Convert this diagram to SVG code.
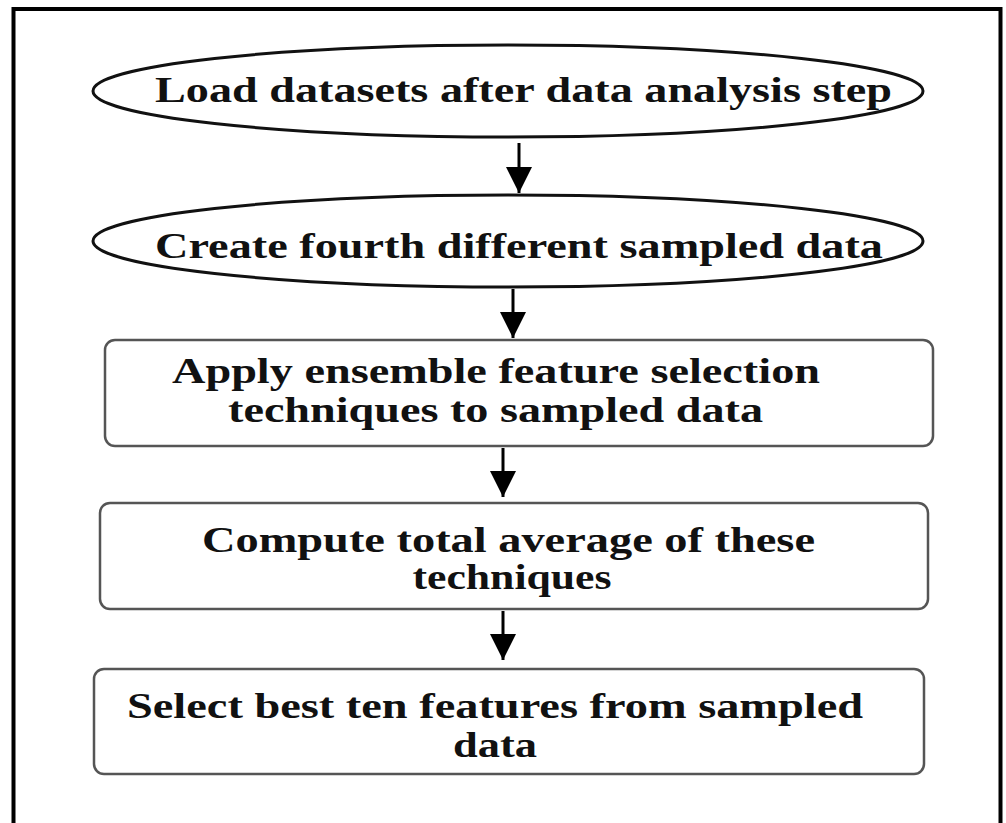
<svg xmlns="http://www.w3.org/2000/svg" width="1006" height="823" viewBox="0 0 1006 823">
<defs>
<marker id="ah" viewBox="0 0 10 10" refX="10" refY="5" markerWidth="26" markerHeight="26" markerUnits="userSpaceOnUse" orient="auto">
<path d="M0,0 L10,5 L0,10 z" fill="#000"/>
</marker>
<style>
.t{font-family:"Liberation Serif","Times New Roman",serif;font-weight:bold;font-size:35px;fill:#111;text-anchor:middle}
.el{fill:#fff;stroke:#111;stroke-width:3}
.bx{fill:#fff;stroke:#555;stroke-width:2.5}
.cn{stroke:#000;stroke-width:3;fill:none}
</style>
</defs>
<rect x="0" y="0" width="1006" height="823" fill="#fff"/>
<rect x="13.5" y="9" width="987" height="830" fill="#fff" stroke="#000" stroke-width="4"/>
<g id="n1">
<ellipse class="el" cx="508" cy="91" rx="415" ry="46"/>
<text class="t" x="523.5" y="102" textLength="737" lengthAdjust="spacingAndGlyphs">Load datasets after data analysis step</text>
</g>
<g id="n2">
<ellipse class="el" cx="508" cy="241" rx="415" ry="46"/>
<text class="t" x="519" y="258" textLength="728" lengthAdjust="spacingAndGlyphs">Create fourth different sampled data</text>
</g>
<g id="n3">
<rect class="bx" x="105" y="340" width="828" height="106" rx="10"/>
<text class="t" x="496" y="383" textLength="648" lengthAdjust="spacingAndGlyphs">Apply ensemble feature selection</text>
<text class="t" x="495.5" y="422" textLength="535" lengthAdjust="spacingAndGlyphs">techniques to sampled data</text>
</g>
<g id="n4">
<rect class="bx" x="100" y="503" width="828" height="106" rx="10"/>
<text class="t" x="508.5" y="552" textLength="613" lengthAdjust="spacingAndGlyphs">Compute total average of these</text>
<text class="t" x="512" y="589" textLength="199" lengthAdjust="spacingAndGlyphs">techniques</text>
</g>
<g id="n5">
<rect class="bx" x="94" y="669" width="830" height="105" rx="10"/>
<text class="t" x="495" y="718" textLength="736" lengthAdjust="spacingAndGlyphs">Select best ten features from sampled</text>
<text class="t" x="495" y="757" textLength="84" lengthAdjust="spacingAndGlyphs">data</text>
</g>
<g id="connectors">
<line class="cn" x1="519" y1="143" x2="519" y2="193" marker-end="url(#ah)"/>
<line class="cn" x1="513" y1="289" x2="513" y2="338" marker-end="url(#ah)"/>
<line class="cn" x1="503" y1="448" x2="503" y2="497" marker-end="url(#ah)"/>
<line class="cn" x1="503" y1="611" x2="503" y2="660" marker-end="url(#ah)"/>
</g>
</svg>
